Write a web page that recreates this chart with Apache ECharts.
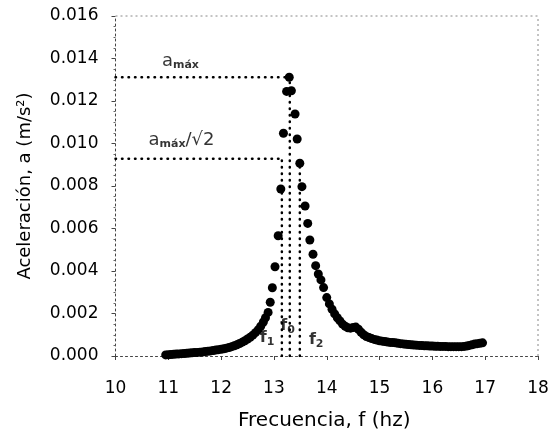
<!DOCTYPE html>
<html><head><meta charset="utf-8">
<script src="https://cdn.jsdelivr.net/npm/echarts@6/dist/echarts.min.js"></script>
<style>html,body{margin:0;padding:0;background:#fff}#c{width:551px;height:433px}</style>
</head><body><div id="c"></div>
<script>
// Measured points: frequency (Hz) and acceleration (m/s^2)
const freq = [
 10.95,11.00,11.05,11.10,11.15,11.20,11.25,11.30,11.35,11.40,11.45,11.50,11.55,11.60,11.65,11.70,11.75,11.80,11.85,11.90,
 11.95,12.00,12.05,12.10,12.15,12.20,12.25,12.30,12.35,12.40,12.45,12.50,12.55,12.60,12.65,12.70,12.75,12.80,12.84,12.89,
 12.93,12.97,13.02,13.08,13.13,13.18,13.24,13.29,13.33,13.40,13.44,13.49,13.53,13.59,13.64,13.68,13.74,13.79,13.84,13.89,
 13.94,14.00,14.05,14.10,14.15,14.20,14.25,14.30,14.35,14.40,14.45,14.50,14.55,14.60,14.65,14.70,14.75,14.80,14.85,14.90,
 14.95,15.00,15.05,15.10,15.15,15.20,15.25,15.30,15.35,15.40,15.45,15.50,15.55,15.60,15.65,15.70,15.75,15.80,15.85,15.90,
 15.95,16.00,16.05,16.10,16.15,16.20,16.25,16.30,16.35,16.40,16.45,16.50,16.55,16.60,16.65,16.70,16.75,16.80,16.85,16.90,
 16.95
];
const accel = [
 0.00005,0.00006,0.00007,0.00008,0.00009,0.00010,0.00011,0.00012,0.00013,0.00014,0.00015,0.00016,0.00017,0.00018,0.00019,0.00021,0.00022,0.00024,0.00026,0.00028,
 0.00030,0.00032,0.00034,0.00037,0.00040,0.00044,0.00048,0.00053,0.00059,0.00065,0.00072,0.00080,0.00088,0.00098,0.00110,0.00123,0.00140,0.00160,0.00180,0.00205,
 0.00253,0.00321,0.00420,0.00566,0.00786,0.01048,0.01245,0.01312,0.01248,0.01139,0.01021,0.00907,0.00797,0.00706,0.00624,0.00546,0.00479,0.00425,0.00386,0.00358,
 0.00322,0.00275,0.00245,0.00220,0.00198,0.00180,0.00165,0.00150,0.00140,0.00133,0.00131,0.00134,0.00136,0.00126,0.00112,0.00100,0.00092,0.00087,0.00082,0.00078,
 0.00075,0.00072,0.00070,0.00068,0.00066,0.00064,0.00063,0.00062,0.00060,0.00058,0.00057,0.00055,0.00054,0.00053,0.00052,0.00051,0.00050,0.00049,0.00048,0.00048,
 0.00047,0.00047,0.00046,0.00046,0.00045,0.00045,0.00045,0.00044,0.00044,0.00044,0.00044,0.00044,0.00044,0.00045,0.00047,0.00050,0.00053,0.00056,0.00058,0.00060,
 0.00062
];
// Reference levels and frequencies
const aMax = 0.01312;
const aMaxRoot2 = 0.00928;
const fMarks = { f1: 13.15, f0: 13.30, f2: 13.49 };
// Axis ranges and titles
const xRange = [10, 18, 1];
const yRange = [0, 0.016, 0.002];
const xTitle = 'Frecuencia, f (hz)';
const yTitle = 'Aceleración, a (m/s²)';
// Annotation anchors in data units
const notes = [
  { text: '{a|a}{s|máx}', f: 11.23, a: 0.01388 },
  { text: '{a|a}{s|máx}{a|/√2}', f: 11.25, a: 0.01016 },
  { text: '{b|f}{bs|1}', f: 12.87, a: 0.00085 },
  { text: '{b|f}{bs|0}', f: 13.26, a: 0.00141 },
  { text: '{b|f}{bs|2}', f: 13.80, a: 0.00075 }
];

const FONT = 'DejaVu Sans';
const dotted = { color: '#000', width: 2.5, type: [0.5, 6], cap: 'round' };
const refLines = [
  [[xRange[0], aMax], [fMarks.f0, aMax]],
  [[xRange[0], aMaxRoot2], [fMarks.f1, aMaxRoot2]],
  [[fMarks.f1, 0], [fMarks.f1, aMaxRoot2]],
  [[fMarks.f0, 0], [fMarks.f0, aMax]],
  [[fMarks.f2, 0], [fMarks.f2, aMaxRoot2]]
];
const frameLines = [
  [[xRange[0], yRange[1]], [xRange[1], yRange[1]]],
  [[xRange[1], yRange[0]], [xRange[1], yRange[1]]]
];

const chart = echarts.init(document.getElementById('c'));
const series = refLines.map(pts => ({
  type: 'line', data: pts, symbol: 'none', lineStyle: dotted, z: 1, animation: false, silent: true
}));
frameLines.forEach(pts => series.push({
  type: 'line', data: pts, symbol: 'none', clip: false, z: 0, animation: false, silent: true,
  lineStyle: { color: '#888', width: 1, type: [2, 3] }
}));
series.push({
  type: 'scatter', data: freq.map((f, i) => [f, accel[i]]), symbolSize: 9,
  itemStyle: { color: '#000', opacity: 1 }, z: 3, animation: false
});
series.push({
  type: 'scatter', data: notes.map(n => [n.f, n.a]), symbolSize: 0, z: 4, animation: false,
  label: {
    show: true, position: 'inside',
    formatter: p => notes[p.dataIndex].text,
    rich: {
      a: { fontFamily: FONT, fontSize: 18, color: '#000' },
      s: { fontFamily: FONT, fontSize: 11, fontWeight: 'bold', color: '#000', verticalAlign: 'bottom', padding: [8, 0, 0, 0] },
      b: { fontFamily: FONT, fontSize: 16, fontWeight: 'bold', color: '#000' },
      bs: { fontFamily: FONT, fontSize: 11, fontWeight: 'bold', color: '#000', verticalAlign: 'bottom', padding: [8, 0, 0, 0] }
    }
  }
});

chart.setOption({
  animation: false,
  backgroundColor: '#fff',
  grid: { left: 115.5, right: 13, top: 16, bottom: 77, containLabel: false, outerBoundsMode: 'none' },
  graphic: [
    { type: 'text', left: 238, top: 411, style: { text: xTitle, fontFamily: FONT, fontSize: 20, fill: '#000' } },
    { type: 'text', x: 16, y: 186, rotation: Math.PI / 2,
      style: { text: yTitle, fontFamily: FONT, fontSize: 18, fill: '#000', align: 'center', verticalAlign: 'top' } }
  ],
  xAxis: {
    type: 'value', min: xRange[0], max: xRange[1], interval: xRange[2],
    axisLine: { show: true, onZero: false, lineStyle: { color: '#444', width: 1, type: [2, 3] } },
    axisTick: { show: true, length: 4, lineStyle: { color: '#444' } },
    axisLabel: { fontFamily: FONT, fontSize: 17, color: '#000', margin: 14, padding: [10, 0, 0, 0] },
    splitLine: { show: false }
  },
  yAxis: {
    type: 'value', min: yRange[0], max: yRange[1], interval: yRange[2],
    axisLine: { show: true, onZero: false, lineStyle: { color: '#444', width: 1, type: [2, 3] } },
    axisTick: { show: true, length: 4, lineStyle: { color: '#444' } },
    minorTick: { show: true, splitNumber: 4, length: 2, lineStyle: { color: '#666' } },
    axisLabel: { fontFamily: FONT, fontSize: 17, color: '#000', margin: 17, formatter: v => v.toFixed(3) },
    splitLine: { show: false }
  },
  series: series
});
</script>
</body></html>
